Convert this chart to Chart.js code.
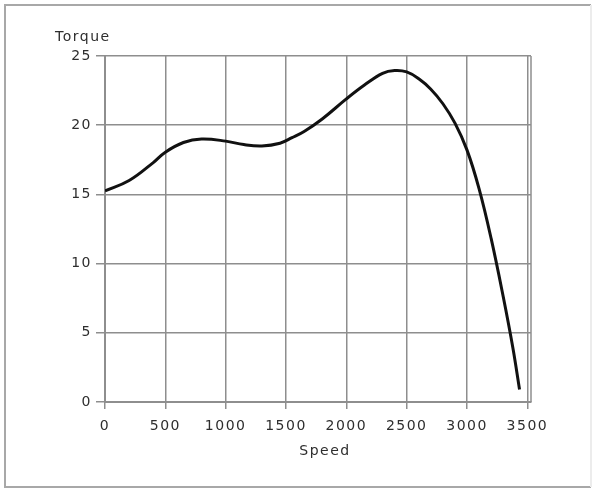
<!DOCTYPE html>
<html>
<head>
<meta charset="utf-8">
<script src="https://cdn.jsdelivr.net/npm/chart.js@4/dist/chart.umd.min.js"></script>
<style>
  html, body { margin: 0; padding: 0; background: #fff; }
  #wrap { width: 597px; height: 489px; }
</style>
</head>
<body>
<div id="wrap"><canvas id="root" width="597" height="489"></canvas></div>
<script>
// torque curve samples (speed -> torque)
const speed  = [0, 200, 400, 500, 650, 800, 1000, 1150, 1300, 1450, 1550, 1650, 1800, 2000, 2150, 2300, 2400, 2500, 2600, 2700, 2800, 2900, 3000, 3100, 3200, 3300, 3380, 3435]
const torque = [15.25, 16.0, 17.3, 18.05, 18.75, 19.0, 18.85, 18.6, 18.5, 18.7, 19.1, 19.55, 20.45, 21.9, 22.9, 23.75, 23.95, 23.85, 23.35, 22.6, 21.55, 20.15, 18.2, 15.4, 11.8, 7.6, 3.9, 0.9]

const speedTicks  = [0, 500, 1000, 1500, 2000, 2500, 3000, 3500]
const torqueTicks = [0, 5, 10, 15, 20, 25]

const xTitle = 'Speed'
const yTitle = 'Torque'

const gridColor = '#8e8e8e'
const textColor = '#2e2e2e'
const font = { family: 'DejaVu Sans', size: 14 }

// frame, right edge of plot and the two axis captions
const decorations = {
    id: 'decorations',
    beforeDraw(chart) {
        chart.ctx.letterSpacing = '1.5px'
    },
    afterDraw(chart) {
        const ctx = chart.ctx
        const a = chart.chartArea
        ctx.save()
        ctx.strokeStyle = gridColor
        ctx.lineWidth = 1.5
        ctx.beginPath()
        ctx.moveTo(a.right, a.top)
        ctx.lineTo(a.right, a.bottom)
        ctx.stroke()

        ctx.strokeStyle = '#a8a8a8'
        ctx.lineWidth = 2
        ctx.beginPath()
        ctx.moveTo(591, 5)
        ctx.lineTo(5, 5)
        ctx.lineTo(5, 487)
        ctx.lineTo(591, 487)
        ctx.stroke()
        ctx.strokeStyle = '#ececec'
        ctx.beginPath()
        ctx.moveTo(591, 5)
        ctx.lineTo(591, 487)
        ctx.stroke()

        ctx.fillStyle = textColor
        ctx.font = '14px "DejaVu Sans"'
        ctx.letterSpacing = '1.5px'
        ctx.textBaseline = 'middle'
        ctx.textAlign = 'left'
        ctx.fillText(yTitle, 55, 37)
        ctx.textAlign = 'center'
        ctx.fillText(xTitle, 325, 451)
        ctx.restore()
    }
}

let ctx = document.getElementById('root').getContext('2d')

let config = {
    type: 'scatter',
    data: {
        datasets: [
            {
                data: speed.map((s, i) => ({ x: s, y: torque[i] })),
                showLine: true,
                borderColor: '#111',
                borderWidth: 3,
                pointRadius: 0,
                tension: 0.4,
                fill: false
            }
        ]
    },
    options: {
        responsive: false,
        animation: false,
        layout: { padding: { left: 0, right: 66, top: 56, bottom: 0 } },
        plugins: {
            legend: { display: false },
            tooltip: { enabled: false }
        },
        scales: {
            x: {
                type: 'linear',
                min: 0,
                max: 3530,
                afterBuildTicks: scale => { scale.ticks = speedTicks.map(v => ({ value: v })) },
                afterFit: scale => { scale.height = 87 },
                grid: { color: gridColor, lineWidth: 1.5, tickLength: 7, tickColor: gridColor },
                border: { color: gridColor, width: 2 },
                ticks: { color: textColor, font: font, padding: 9, maxRotation: 0, callback: v => String(v) }
            },
            y: {
                min: 0,
                max: 25,
                afterBuildTicks: scale => { scale.ticks = torqueTicks.map(v => ({ value: v })) },
                afterFit: scale => { scale.width = 105 },
                grid: { color: gridColor, lineWidth: 1.5, tickLength: 9, tickColor: gridColor },
                border: { color: gridColor, width: 2 },
                ticks: { color: textColor, font: font, padding: 4, callback: v => String(v) }
            }
        }
    },
    plugins: [decorations]
}

let myChart = new Chart(ctx, config)
</script>
</body>
</html>
